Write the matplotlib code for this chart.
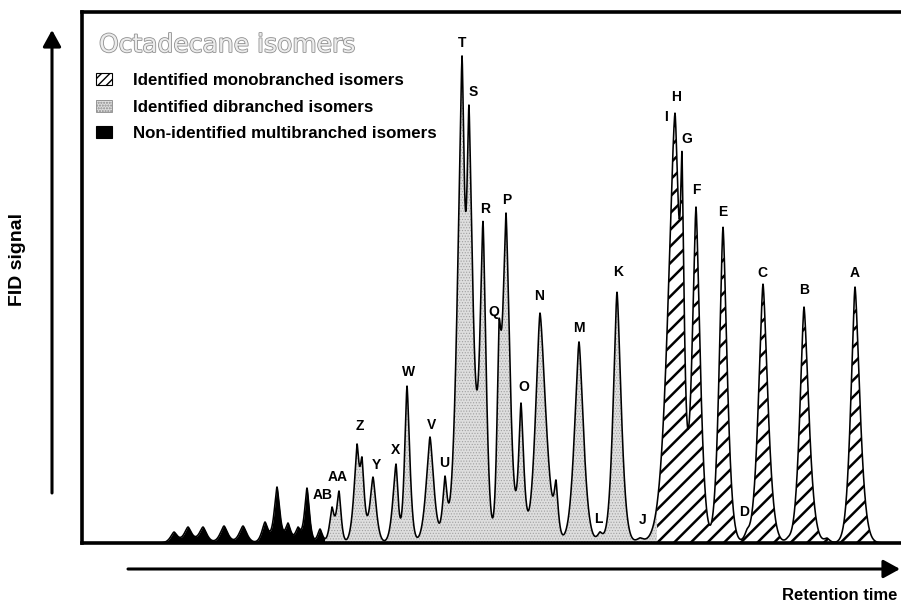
import numpy as np
import matplotlib
matplotlib.use("Agg")
import matplotlib.pyplot as plt
from matplotlib.patches import Patch, FancyArrowPatch
import matplotlib.patheffects as pe

# ---------------------------------------------------------------------------
# Peak table of the C18 isomer chromatogram (retention in arbitrary units,
# apex signal in arbitrary FID units, left/right half-widths of each peak)
# ---------------------------------------------------------------------------
peak_label = ["", "", "", "", "", "", "", "", "", "", "",
              "AB", "AA", "Z", "", "Y", "X", "W", "V", "U",
              "T", "S", "R", "Q", "P", "O", "N", "", "M", "", "L", "K", "", "J",
              "H", "G", "F", "E", "D", "C", "", "", "B", "", "A", ""]
peak_rt = [174, 188, 203, 224, 243, 265, 277, 288, 298, 307, 320,
           332, 339, 357, 362, 373, 396, 407, 430, 445,
           462, 469, 483, 499, 506, 521, 540, 556, 579, 590, 600, 617, 640, 650,
           675, 682, 696, 723, 747, 763, 778, 788, 804, 827, 855, 869]
peak_apex = [11, 16, 16, 17, 17, 21, 56, 20, 16, 55, 14,
             36, 52, 99, 86, 66, 79, 157, 106, 67,
             487, 438, 322, 223, 330, 140, 230, 63, 201, 12, 11, 251, 5, 5,
             430, 391, 336, 316, 14, 259, 6, 6, 236, 5, 256, 5]
peak_wl = [5, 5.5, 5.5, 5.5, 5.5, 4.5, 4, 4, 4, 3.5, 3.5,
           3.5, 3.5, 4.5, 3, 4.5, 4.5, 3.5, 5.5, 3.5,
           6.5, 3.5, 4.5, 3, 5, 3.5, 6.5, 2.5, 6.5, 4, 4, 5.5, 5, 5,
           10, 2.0, 5.5, 5.5, 4, 6.5, 4, 4, 6, 4, 6, 4]
peak_wr = [5, 5.5, 5.5, 5.5, 5.5, 4.5, 4, 4, 4, 3.5, 3.5,
           3, 3, 3, 3.5, 4.5, 3, 4, 5.5, 3,
           3.7, 6, 4.5, 3, 5.5, 4, 8.5, 3, 6.5, 4, 4, 6, 5, 5,
           7.5, 3.0, 6, 6, 4, 7, 4, 4, 7, 4, 7, 4]

# Isomer families by elution window
family_names = ["Identified monobranched isomers",
                "Identified dibranched isomers",
                "Non-identified multibranched isomers"]
family_edges = [325, 657]          # multibranched | dibranched | monobranched

# Unresolved co-eluting isomer (labelled on the H peak)
coeluting_label = "I"
coeluting_with = "H"

SHAPE_EXP = 1.5


def peak_shape(x, rt, wl, wr):
    dx = np.asarray(x, dtype=float) - rt
    w = np.where(dx < 0, wl, wr)
    return np.exp(-np.abs(dx / w) ** SHAPE_EXP)


rt = np.array(peak_rt, float)
wl = np.array(peak_wl, float)
wr = np.array(peak_wr, float)
apex = np.array(peak_apex, float)

# peak heights such that the summed trace passes through every apex value
A = np.column_stack([peak_shape(rt, r, a, b) for r, a, b in zip(rt, wl, wr)])
heights = np.clip(np.linalg.solve(A, apex), 0, None)

t = np.linspace(160, 885, 6000)
signal = np.zeros_like(t)
for h, r, a, b in zip(heights, rt, wl, wr):
    signal += h * peak_shape(t, r, a, b)

# ---------------------------------------------------------------------------
W, H = 901, 607
fig = plt.figure(figsize=(W / 100, H / 100), dpi=100)
ax_left, ax_right, ax_top, ax_bot = 81.5, 910, 12, 543
ax = fig.add_axes([ax_left / W, 1 - ax_bot / H,
                   (ax_right - ax_left) / W, (ax_bot - ax_top) / H])
ax.set_xlim(ax_left, ax_right)
ax.set_ylim(0, ax_bot - ax_top)
ax.set_xticks([])
ax.set_yticks([])
for side in ("left", "top", "bottom"):
    ax.spines[side].set_linewidth(2.6)
    ax.spines[side].set_zorder(5)
ax.spines["right"].set_visible(False)

per_artist_hatch = hasattr(matplotlib.collections.Collection, "set_hatch_linewidth")
if not per_artist_hatch:
    plt.rcParams["hatch.linewidth"] = 1.6

m_multi = t <= family_edges[0]
m_di = (t >= family_edges[0]) & (t <= family_edges[1])
m_mono = t >= family_edges[1]

ax.fill_between(t[m_multi], 0, signal[m_multi], facecolor="black",
                edgecolor="black", linewidth=0)
stipple = ax.fill_between(t[m_di], 0, signal[m_di], facecolor="#dedede",
                          edgecolor="#a0a0a0",
                          hatch="......" if per_artist_hatch else None, linewidth=0)
stripes = ax.fill_between(t[m_mono], 0, signal[m_mono], facecolor="white",
                          edgecolor="black", hatch="//", linewidth=0)
if per_artist_hatch:
    stipple.set_hatch_linewidth(0.5)
    stripes.set_hatch_linewidth(1.8)
ax.plot(t, signal, color="black", lw=1.15, zorder=3)

# peak letters (offsets in pixels from the apex)
label_offset = {
    "AB": (-9, 12), "AA": (-1, 14), "Z": (3, 18), "Y": (3, 12), "X": (0, 14),
    "W": (2, 14), "V": (2, 12), "U": (-1, 13), "T": (0, 13), "S": (4, 13),
    "R": (2, 12), "Q": (-5, 8), "P": (1, 13), "O": (3, 16), "N": (-1, 17),
    "M": (0, 14), "L": (-2, 13), "K": (1, 20), "J": (-7, 18), "H": (1, 16),
    "G": (5, 13), "F": (0, 17), "E": (0, 15), "D": (-3, 17), "C": (-1, 11),
    "B": (0, 17), "A": (0, 14), "I": (-9, -4),
}
lab_font = dict(family="Liberation Sans", weight="bold", size=10)
for lab, r, a in zip(peak_label, peak_rt, peak_apex):
    if not lab:
        continue
    ax.annotate(lab, (r, a), xytext=label_offset[lab], textcoords="offset pixels",
                ha="center", va="center", zorder=6, **lab_font)
i_h = peak_label.index(coeluting_with)
ax.annotate(coeluting_label, (peak_rt[i_h], peak_apex[i_h]),
            xytext=label_offset[coeluting_label], textcoords="offset pixels",
            ha="center", va="center", zorder=6, **lab_font)

# legend
h_mono = Patch(facecolor="white", edgecolor="black", hatch="////", linewidth=0.8)
h_di = Patch(facecolor="#dedede", edgecolor="#8a8a8a",
             hatch="......" if per_artist_hatch else None, linewidth=0.6)
h_multi = Patch(facecolor="black", edgecolor="black", linewidth=0.8)
if per_artist_hatch and hasattr(h_mono, "set_hatch_linewidth"):
    h_mono.set_hatch_linewidth(1.0)
    h_di.set_hatch_linewidth(0.5)
leg = ax.legend([h_mono, h_di, h_multi], family_names, loc="upper left",
                bbox_to_anchor=(96 / W, 1 - 73 / H), bbox_transform=fig.transFigure,
                frameon=False,
                prop=dict(family="Liberation Sans", weight="bold", size=12.2),
                handlelength=0.95, handleheight=0.7, handletextpad=1.25,
                labelspacing=0.68, borderpad=0, borderaxespad=0)

fig.text(99 / W, 1 - 45 / H, "Octadecane isomers", ha="left", va="center",
         family="DejaVu Sans", size=18, color="#ececec",
         path_effects=[pe.withStroke(linewidth=1.2, foreground="#909090")])

# axis arrows
def fig_pt(x, y):
    return (x / W, 1 - y / H)

for a_, b_ in [((52, 493), (52, 30)), ((128, 569), (900, 569))]:
    fig.add_artist(FancyArrowPatch(fig_pt(*a_), fig_pt(*b_), transform=fig.transFigure,
                                   arrowstyle="-|>,head_length=1.0,head_width=0.55",
                                   mutation_scale=10, lw=2.2, color="black",
                                   shrinkA=0, shrinkB=0))

fig.text(18 / W, 1 - 259 / H, "FID signal", rotation=90, ha="center", va="center",
         family="Liberation Sans", weight="bold", size=14)
fig.text(897 / W, 1 - 596 / H, "Retention time", ha="right", va="center",
         family="Liberation Sans", weight="bold", size=12)

fig.savefig("out.png", dpi=100)
